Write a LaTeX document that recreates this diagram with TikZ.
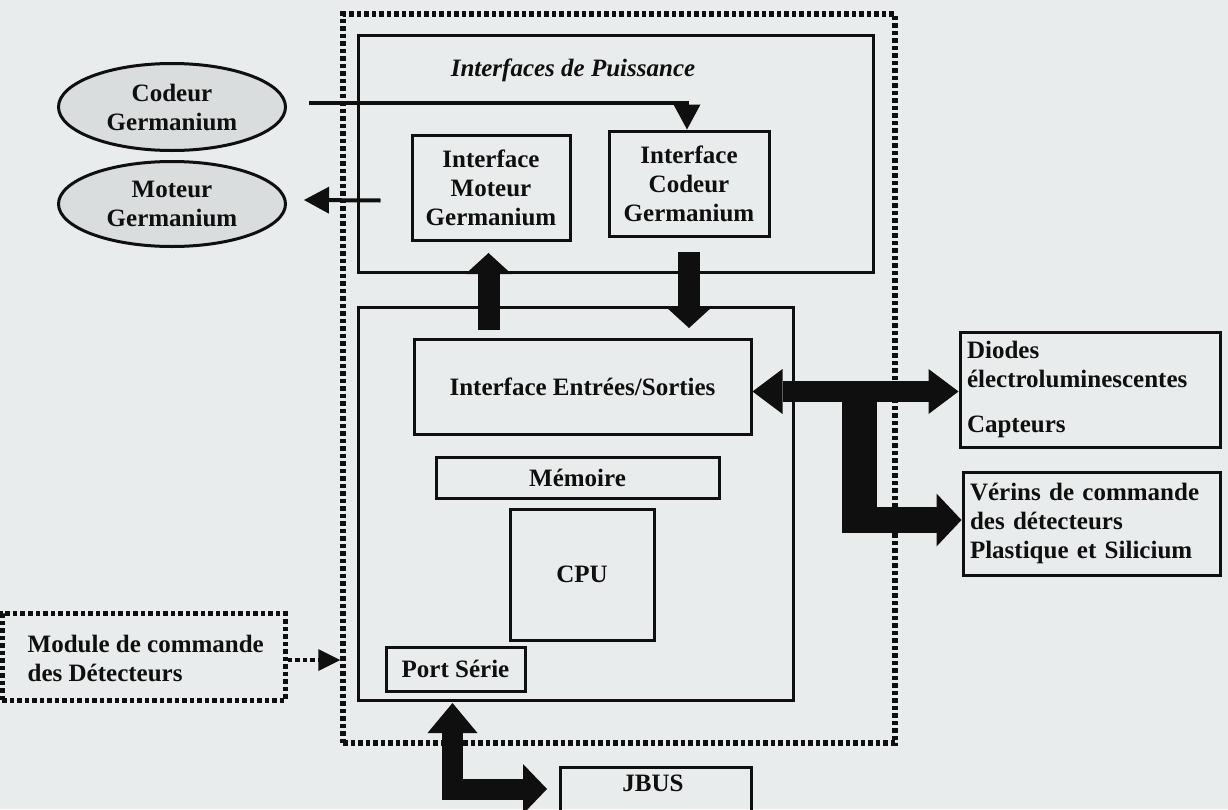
\documentclass[tikz,border=0pt]{standalone}
\usepackage{fontspec}
\setmainfont{Liberation Serif}
\usetikzlibrary{arrows.meta,shapes.geometric,calc}
\definecolor{paper}{RGB}{233,236,236}
\definecolor{ink}{RGB}{15,15,15}
\definecolor{ellfill}{RGB}{218,221,221}
\begin{document}
\begin{tikzpicture}[x=1pt,y=-1pt,
  every node/.style={font=\fontsize{25}{29}\selectfont\bfseries, text=ink, inner sep=0pt},
  solidbox/.style={draw=ink, line width=3pt, rectangle},
  dotbox/.style={draw=ink, line width=5.5pt, dash pattern=on 4.5pt off 3pt},
  elbox/.style={ellipse, draw=ink, line width=3pt, fill=ellfill, align=center, minimum width=227pt, minimum height=87pt},
  thinarrow/.style={draw=ink, line width=4pt, -{Triangle[width=27pt,length=25pt,line width'=0pt]}},
  fatarrow/.style={draw=ink, line width=22pt, -{Triangle[width=46pt,length=21pt,line width'=0pt]}},
]
\fill[paper] (0,0) rectangle (1228,809);
\clip (0,0) rectangle (1228,809);

% outer dotted frame
\node[dotbox, minimum width=552pt, minimum height=729pt] (outer) at (619,378.5) {};

% power interfaces
\node[solidbox, minimum width=515pt, minimum height=237pt] (power) at (615.5,153.5) {};
\node[font=\fontsize{25}{29}\selectfont\bfseries\itshape] (ptitle) at (573,70) {Interfaces de Puissance};
\node[solidbox, minimum width=158pt, minimum height=105pt, align=center] (imot) at (491,187.5) {Interface\\Moteur\\Germanium};
\node[solidbox, minimum width=160pt, minimum height=105pt, align=center] (icod) at (689,183.5) {Interface\\Codeur\\Germanium};

% control block
\node[solidbox, minimum width=435pt, minimum height=393pt] (ctrl) at (575.5,503.5) {};
\node[solidbox, minimum width=337pt, minimum height=95pt] (io) at (582.5,386.5) {Interface Entrées/Sorties};
\node[solidbox, minimum width=283pt, minimum height=41pt] (mem) at (577.5,477.5) {Mémoire};
\node[solidbox, minimum width=144pt, minimum height=131pt] (cpu) at (582,574.5) {CPU};
\node[solidbox, minimum width=139pt, minimum height=44pt] (port) at (455.5,669) {Port Série};

% ellipses
\node[elbox] (ecod) at (172,107) {Codeur\\Germanium};
\node[elbox, minimum height=85pt] (emot) at (172,204) {Moteur\\Germanium};

% module de commande
\node[draw=ink, line width=5pt, dash pattern=on 4.5pt off 3pt, minimum width=283pt, minimum height=87pt] (module) at (143.5,657) {};
\node[align=left, anchor=west] (moduletext) at ($(module.west)+(28,1)$) {Module de commande\\des Détecteurs};

% right boxes
\node[solidbox, text width=246pt, inner xsep=7pt, minimum height=115pt, align=left] (diodes) at (1090,389.5) {Diodes\\électroluminescentes\\[16pt]Capteurs};
\node[solidbox, text width=243pt, inner xsep=7pt, minimum height=103pt, align=left] (verins) at (1091.5,523.5) {Vérins de commande\\des détecteurs\\Plastique et Silicium};

% JBUS
\node[solidbox, minimum width=191pt, minimum height=56pt] (jbus) at (655.5,795) {};
\node (jbustext) at (653,783) {JBUS};

% thin arrows
\draw[thinarrow] ($(ecod.east)+(22,-4)$) -| ($(icod.north)+(-2,0)$);
\draw[thinarrow] ($(imot.west)+(-30,13)$) -- ($(emot.east)+(17,-4)$);

% module arrow
\coordinate (mstart) at ($(module.east)+(0,3)$);
\coordinate (mend) at (mstart -| outer.west);
\draw[ink, line width=4.5pt, dash pattern=on 4.5pt off 3pt, -{Triangle[width=22pt,length=22pt,line width'=0pt]}] (mstart) -- (mend);

% fat vertical arrows
\coordinate (upstart) at (488.5,330);
\coordinate (downstart) at (689,252);
\draw[fatarrow] (upstart) -- (upstart |- 0,253);
\draw[fatarrow] (downstart) -- (downstart |- 0,328);

% T connector
\coordinate (tleft) at ($(io.east)+(0,5)$);
\coordinate (tright) at (tleft -| diodes.west);
\draw[ink, line width=21pt, {Triangle[width=45pt,length=30pt,line width'=0pt]}-{Triangle[width=45pt,length=30pt,line width'=0pt]}] (tleft) -- (tright);
\coordinate (tjoin) at (859.5,391.5);
\coordinate (tcorner) at (842,520);
\coordinate (vend) at (tcorner -| verins.west);
\draw[ink, line width=35pt] (tjoin) -- (859.5,533);
\draw[ink, line width=26pt, -{Triangle[width=53pt,length=25pt,line width'=0pt]}] (tcorner) -- (vend);

% JBUS elbow
\coordinate (jstart) at (452.5,703);
\coordinate (jend) at (547,789);
\draw[ink, line width=21pt, {Triangle[width=50pt,length=30pt,line width'=0pt]}-{Triangle[width=50pt,length=24pt,line width'=0pt]}] (jstart) |- (jend);
\end{tikzpicture}
\end{document}
